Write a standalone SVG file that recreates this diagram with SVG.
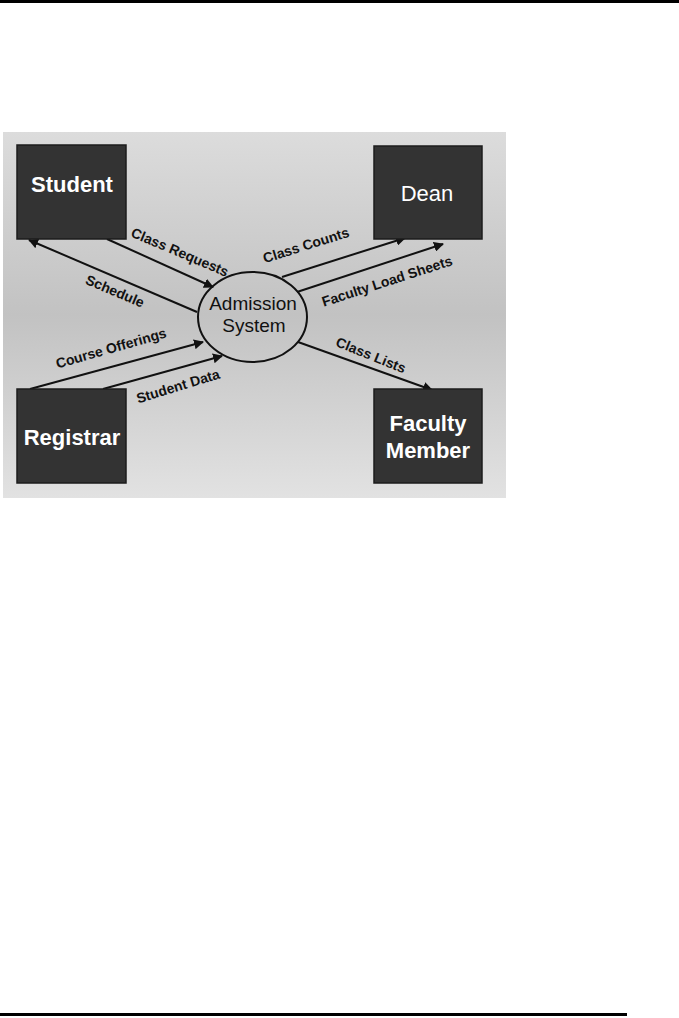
<svg xmlns="http://www.w3.org/2000/svg" width="679" height="1018" viewBox="0 0 679 1018">
<style>
.box{fill:#333333;stroke:#1c1c1c;stroke-width:1.5}
.bt{fill:#ffffff;font-family:"Liberation Sans",Arial,sans-serif;font-size:22px;font-weight:bold;text-anchor:middle}
.ct{fill:#111111;font-family:"Liberation Sans",Arial,sans-serif;font-size:19px;text-anchor:middle}
.lb{fill:#111111;font-family:"Liberation Sans",Arial,sans-serif;font-size:14px;font-weight:bold;text-anchor:middle}
.ln{stroke:#111111;stroke-width:2;fill:none;marker-end:url(#ah)}
</style>
<defs>
<linearGradient id="bg" x1="0" y1="0" x2="0" y2="1">
<stop offset="0" stop-color="#dcdcdc"/>
<stop offset="0.5" stop-color="#c2c2c2"/>
<stop offset="1" stop-color="#e2e2e2"/>
</linearGradient>
<marker id="ah" viewBox="0 0 10 10" refX="9" refY="5" markerWidth="5" markerHeight="5" orient="auto" markerUnits="strokeWidth">
<path d="M0,0 L10,5 L0,10 z" fill="#111111"/>
</marker>
</defs>
<rect x="0" y="0" width="679" height="3" fill="#000000"/>
<rect x="0" y="1013" width="627" height="3" fill="#000000"/>
<rect x="3" y="132" width="503" height="366" fill="url(#bg)"/>
<g id="connectors">
<line class="ln" x1="107" y1="239" x2="213" y2="287"/>
<line class="ln" x1="197" y1="312" x2="29" y2="240"/>
<line class="ln" x1="282" y1="277" x2="405" y2="238"/>
<line class="ln" x1="297" y1="292" x2="443" y2="244"/>
<line class="ln" x1="298" y1="342" x2="432" y2="390"/>
<line class="ln" x1="30" y1="389" x2="203" y2="342"/>
<line class="ln" x1="103" y1="389" x2="222" y2="356"/>
<text class="lb" transform="translate(180,252) rotate(23)" y="5">Class Requests</text>
<text class="lb" transform="translate(115,291) rotate(23)" y="5">Schedule</text>
<text class="lb" transform="translate(306,245) rotate(-17.5)" y="5">Class Counts</text>
<text class="lb" transform="translate(387,281) rotate(-18)" y="5">Faculty Load Sheets</text>
<text class="lb" transform="translate(371,355) rotate(22)" y="5">Class Lists</text>
<text class="lb" transform="translate(111,348) rotate(-16)" y="5">Course Offerings</text>
<text class="lb" transform="translate(178,386) rotate(-17)" y="5">Student Data</text>
</g>
<g id="student">
<rect class="box" x="17" y="145" width="109" height="94"/>
<text class="bt" x="72" y="192">Student</text>
</g>
<g id="dean">
<rect class="box" x="374" y="146" width="108" height="93"/>
<text class="bt" x="427" y="201" style="font-weight:normal">Dean</text>
</g>
<g id="registrar">
<rect class="box" x="17" y="389" width="109" height="94"/>
<text class="bt" x="72" y="445">Registrar</text>
</g>
<g id="faculty">
<rect class="box" x="374" y="389" width="108" height="94"/>
<text class="bt" x="428" y="431">Faculty</text>
<text class="bt" x="428" y="458">Member</text>
</g>
<g id="admission">
<ellipse cx="252.5" cy="317" rx="54.5" ry="45" fill="none" stroke="#111111" stroke-width="2"/>
<text class="ct" x="253" y="310">Admission</text>
<text class="ct" x="254" y="332">System</text>
</g>
</svg>
